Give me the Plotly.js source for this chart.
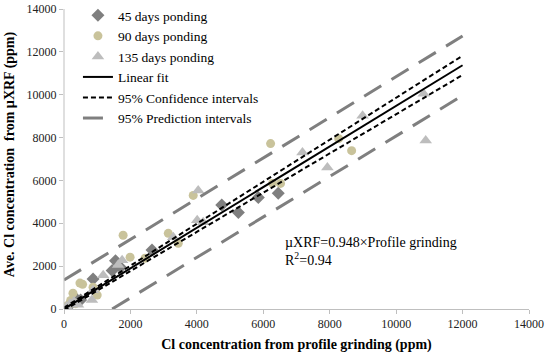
<!DOCTYPE html>
<html>
<head>
<meta charset="utf-8">
<script src="https://cdn.plot.ly/plotly-3.0.1.min.js"></script>
<style>html,body{margin:0;padding:0;background:#fff;} #chart{width:550px;height:359px;}</style>
</head>
<body>
<div id="chart"></div>
<script>
// 45 days ponding
const d45x = [150, 250, 350, 500, 875, 1450, 1550, 1700, 2650, 4750, 5250, 5850, 6450];
const d45y = [180, 300, 500, 420, 1400, 1800, 2250, 1950, 2750, 4850, 4500, 5200, 5400];
// 90 days ponding
const d90x = [100, 200, 270, 350, 480, 560, 875, 1000, 1780, 1990, 2440, 3140, 3440, 3890, 6220, 6280, 6520, 8270, 8660];
const d90y = [150, 400, 740, 250, 1210, 1150, 1020, 650, 3440, 2420, 2370, 3530, 3070, 5300, 7720, 5860, 5860, 7950, 7390];
// 135 days ponding
const d135x = [80, 180, 300, 420, 840, 875, 1180, 1630, 1750, 3290, 4010, 4040, 4190, 7180, 7930, 8990, 10830, 10890];
const d135y = [100, 250, 350, 200, 420, 880, 1580, 2050, 2280, 3350, 4140, 5530, 4050, 7300, 6600, 9020, 10040, 7860];
// Fit and interval lines (endpoints at x = 0 and 12000)
const lineX = [0, 12000];
const fitY = [0, 11376];
const ciUpperY = [60, 11820];
const ciLowerY = [-60, 10920];
const piUpperY = [1350, 12740];
const piLowerX = [1450, 12000];
const piLowerY = [0, 9960];
const xTicks = [0, 2000, 4000, 6000, 8000, 10000, 12000, 14000];
const yTicks = [0, 2000, 4000, 6000, 8000, 10000, 12000, 14000];
const axisMax = 14000;

const serif = "Liberation Serif, Times New Roman, serif";
const traces = [
  {x: d45x, y: d45y, mode: 'markers', type: 'scatter', name: '45 days ponding',
   marker: {symbol: 'diamond', size: 10, color: '#7f7f7f'}},
  {x: d90x, y: d90y, mode: 'markers', type: 'scatter', name: '90 days ponding',
   marker: {symbol: 'circle', size: 9, color: '#c9c39b'}},
  {x: d135x, y: d135y, mode: 'markers', type: 'scatter', name: '135 days ponding',
   marker: {symbol: 'triangle-up', size: 11, color: '#bdbdbd'}},
  {x: lineX, y: fitY, mode: 'lines', type: 'scatter', name: 'Linear fit',
   line: {color: '#000', width: 2}},
  {x: lineX, y: ciUpperY, mode: 'lines', type: 'scatter', name: '95% Confidence intervals',
   line: {color: '#000', width: 2, dash: '5px,3px'}, legendgroup: 'ci'},
  {x: lineX, y: ciLowerY, mode: 'lines', type: 'scatter', name: '95% Confidence intervals',
   line: {color: '#000', width: 2, dash: '5px,3px'}, legendgroup: 'ci', showlegend: false},
  {x: lineX, y: piUpperY, mode: 'lines', type: 'scatter', name: '95% Prediction intervals',
   line: {color: '#7f7f7f', width: 3, dash: '20px,12px'}, legendgroup: 'pi'},
  {x: piLowerX, y: piLowerY, mode: 'lines', type: 'scatter', name: '95% Prediction intervals',
   line: {color: '#7f7f7f', width: 3, dash: '20px,12px'}, legendgroup: 'pi', showlegend: false}
];

const layout = {
  width: 550, height: 359,
  margin: {l: 64, r: 21, t: 0, b: 50},
  paper_bgcolor: '#fff', plot_bgcolor: '#fff',
  font: {family: serif, color: '#000', size: 12},
  showlegend: true,
  legend: {x: 0.03, y: 1.0, xanchor: 'left', yanchor: 'top', bgcolor: 'rgba(0,0,0,0)',
           font: {family: serif, size: 13.5, color: '#000'}, tracegroupgap: 0},
  xaxis: {range: [0, 14000], tickvals: xTicks, ticktext: xTicks.map(String),
          showgrid: false, zeroline: false, showline: true, linecolor: '#bfbfbf', linewidth: 1,
          ticks: 'outside', ticklen: 4, tickcolor: '#bfbfbf',
          tickfont: {family: serif, size: 12, color: '#222'},
          title: {text: '<b>Cl concentration from profile grinding (ppm)</b>', font: {family: serif, size: 14, color: '#000'}, standoff: 8}},
  yaxis: {range: [0, axisMax * 309 / 300], tickvals: yTicks, ticktext: yTicks.map(String),
          showgrid: false, zeroline: false, showline: false,
          ticks: 'outside', ticklen: 4, tickcolor: '#bfbfbf',
          tickfont: {family: serif, size: 12, color: '#222'},
          title: {text: '<b>Ave. Cl concentration  from µXRF (ppm)</b>', font: {family: serif, size: 14, color: '#000'}, standoff: 8}},
  shapes: [
    {type: 'line', xref: 'paper', yref: 'y', x0: 0, x1: 0, y0: 0, y1: axisMax,
     line: {color: '#bfbfbf', width: 1}}
  ],
  annotations: [
    {xref: 'paper', yref: 'paper', x: 0.472, y: 0.186, xanchor: 'left', yanchor: 'middle', showarrow: false, align: 'left',
     text: 'µXRF=0.948×Profile grinding<br>R<sup>2</sup>=0.94', font: {family: serif, size: 14, color: '#000'}}
  ]
};
Plotly.newPlot('chart', traces, layout, {displayModeBar: false, staticPlot: true});
</script>
</body>
</html>
